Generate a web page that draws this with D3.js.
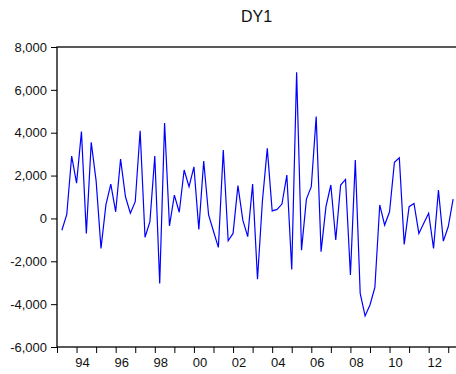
<!DOCTYPE html>
<html>
<head>
<meta charset="utf-8">
<script src="https://cdn.jsdelivr.net/npm/d3@7"></script>
<style>
  body { margin:0; background:#fff; }
  text { font-family: Arial, "Liberation Sans", sans-serif; fill:#111; }
</style>
</head>
<body>
<div id="chart"></div>
<script>
// DY1, quarterly, first obs 1993Q2
let title = "DY1"
let startYear = 1993, startQuarter = 2
let dy1 = [-550, 190, 2910, 1650, 4050, -700, 3550, 1750, -1400, 630,
  1600, 310, 2770, 1010, 240, 780, 4090, -880, -150, 2910,
  -3030, 4450, -350, 1090, 290, 2260, 1480, 2410, -510, 2680,
  160, -600, -1350, 3190, -1040, -700, 1530, -80, -850, 1600,
  -2840, 800, 3270, 350, 420, 670, 2020, -2380, 6820, -1480,
  900, 1480, 4750, -1550, 550, 1560, -1010, 1560, 1820, -2640,
  2720, -3500, -4550, -4040, -3220, 630, -310, 310, 2620, 2830,
  -1210, 550, 700, -700, -230, 240, -1400, 1320, -1060, -390, 900]
let yTicks = [-6000, -4000, -2000, 0, 2000, 4000, 6000, 8000]
let yearTicks = d3.range(1993, 2014)
let yearLabels = d3.range(1994, 2013, 2)

function render(){
  let width = 456, height = 374,
      margin = { top:47, left:57, right:-2, bottom:27 },
      innerWidth = width - margin.left - margin.right,
      innerHeight = height - margin.top - margin.bottom

  let data = dy1.map(function(v,i){
    return { t: startYear + (startQuarter - 1 + i)/4, value: v }
  })

  let xScale = d3.scaleLinear()
    .domain([startYear, startYear + (startQuarter - 1 + dy1.length)/4])
    .range([0, innerWidth])
  let yScale = d3.scaleLinear()
    .domain([-6000, 8000])
    .range([innerHeight, 0])

  let fmt = d3.formatLocale({ decimal:".", thousands:",", grouping:[3], currency:["",""], minus:"-" }).format(",")

  let svg = d3.select("#chart").append("svg")
    .attr("width", width).attr("height", height)
  let g = svg.append("g").attr("transform", `translate(${margin.left},${margin.top})`)

  // frame
  g.append("rect")
    .attr("x", 0).attr("y", 0)
    .attr("width", innerWidth).attr("height", innerHeight)
    .attr("fill", "none").attr("stroke", "#000").attr("stroke-width", 1.3)

  let yAxis = d3.axisLeft(yScale).tickValues(yTicks).tickFormat(fmt).tickSize(6).tickPadding(4)
  let yGroup = g.append("g").call(yAxis)
  yGroup.select(".domain").remove()
  yGroup.selectAll("text").attr("font-size", 13).attr("fill", "#111")

  let xAxis = d3.axisBottom(xScale).tickValues(yearTicks).tickFormat("").tickSize(6)
  let xGroup = g.append("g").attr("transform", `translate(0,${innerHeight})`).call(xAxis)
  xGroup.select(".domain").remove()

  g.selectAll(".yearlab").data(yearLabels).enter().append("text")
    .attr("class", "yearlab")
    .attr("x", function(d){ return xScale(d) + 6 })
    .attr("y", innerHeight + 20)
    .attr("text-anchor", "middle")
    .attr("font-size", 13)
    .text(function(d){ return String(d % 100).padStart(2, "0") })

  let line = d3.line()
    .x(function(d){ return xScale(d.t) })
    .y(function(d){ return yScale(d.value) })

  g.append("path")
    .attr("d", line(data))
    .attr("stroke", "#0000ff")
    .attr("stroke-width", 1.2)
    .attr("fill", "none")

  svg.append("text")
    .attr("x", margin.left + (width - margin.left)/2)
    .attr("y", 22)
    .attr("text-anchor", "middle")
    .attr("font-size", 16)
    .text(title)
}
render()
</script>
</body>
</html>
